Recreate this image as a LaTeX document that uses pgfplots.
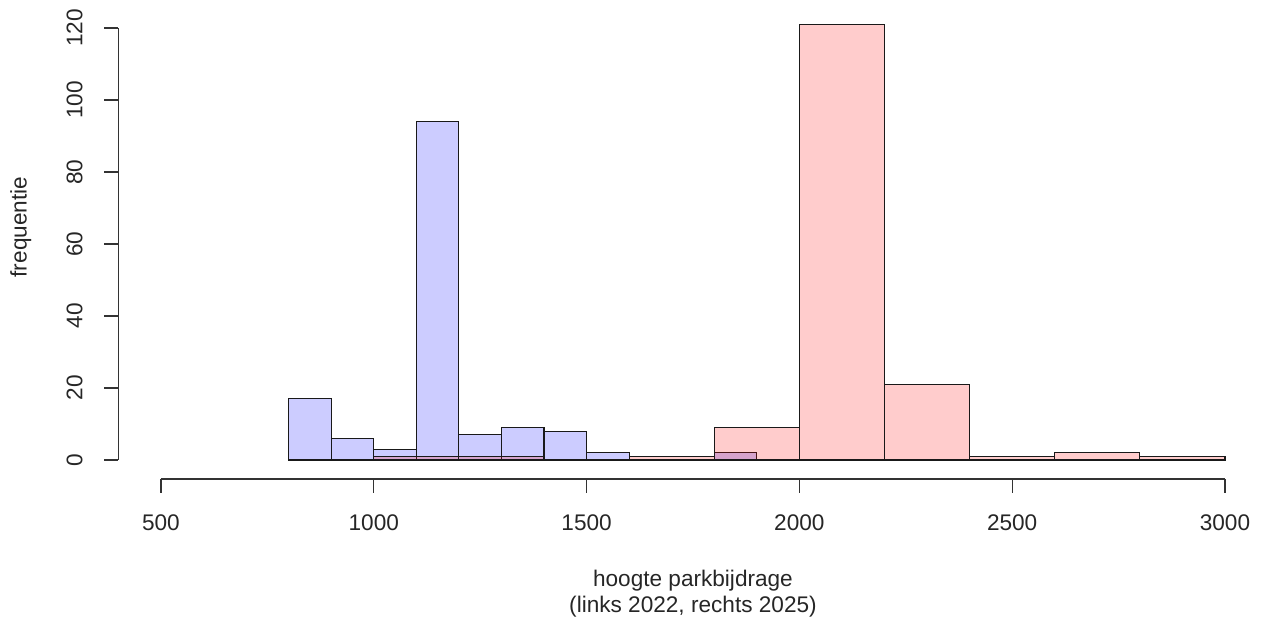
\documentclass[border=0pt]{standalone}
\usepackage{pgfplots}
\pgfplotsset{compat=1.18}
\usepackage{fontspec}
\setmainfont{Liberation Sans}
\begin{document}
\begin{tikzpicture}
\begin{axis}[
  scale only axis,
  width=571.3pt, height=239.5pt,
  xmin=400, xmax=3084.6,
  ymin=-5.28, ymax=127.78,
  axis lines*=left,
  axis line style={draw=none},
  clip=false,
  tick align=outside,
  major tick length=7pt,
  tick style={black!80, line width=0.65pt},
  xtick={500,1000,...,3000},
  ytick={0,20,...,120},
  minor tick num=0,
  /pgf/number format/assume math mode=true,
  /pgf/number format/1000 sep={},
  ticklabel style={font=\fontsize{11.3}{13}\selectfont, text=black!85, inner sep=0pt},
  xticklabel style={anchor=north},
  yticklabel style={rotate=90, anchor=south},
  xticklabel shift=10.5pt,
  yticklabel shift=10.7pt,
]
\addplot[ybar interval, fill=blue, fill opacity=0.2, draw=black!90, line width=0.6pt]
coordinates {(800,17) (900,6) (1000,3) (1100,94) (1200,7) (1300,9) (1400,8) (1500,2) (1600,0) (1700,0) (1800,2) (1900,0)};
\addplot[ybar interval, fill=red, fill opacity=0.2, draw=black!90, line width=0.6pt]
coordinates {(1000,1) (1200,1) (1400,0) (1600,1) (1800,9) (2000,121) (2200,21) (2400,1) (2600,2) (2800,1) (3000,0)};
\draw[black!80, line width=0.65pt] (axis cs:500,-5.28) -- (axis cs:3000,-5.28);
\draw[black!80, line width=0.65pt] (axis cs:400,0) -- (axis cs:400,120);
\node[anchor=base, inner sep=0pt, font=\fontsize{11.3}{13}\selectfont, text=black!85] at (axis cs:1750,-35.28) {hoogte parkbijdrage};
\node[anchor=base, inner sep=0pt, font=\fontsize{11.3}{13}\selectfont, text=black!85] at (axis cs:1750,-42.5) {(links 2022, rechts 2025)};
\node[anchor=base, rotate=90, inner sep=0pt, font=\fontsize{11.3}{13}\selectfont, text=black!85] at (axis cs:184.4,64.7) {frequentie};
\end{axis}
\pgfresetboundingbox
\path[use as bounding box] ([xshift=-59.2pt,yshift=-71pt]current axis.south west) rectangle (current axis.north east);
\end{tikzpicture}
\end{document}
